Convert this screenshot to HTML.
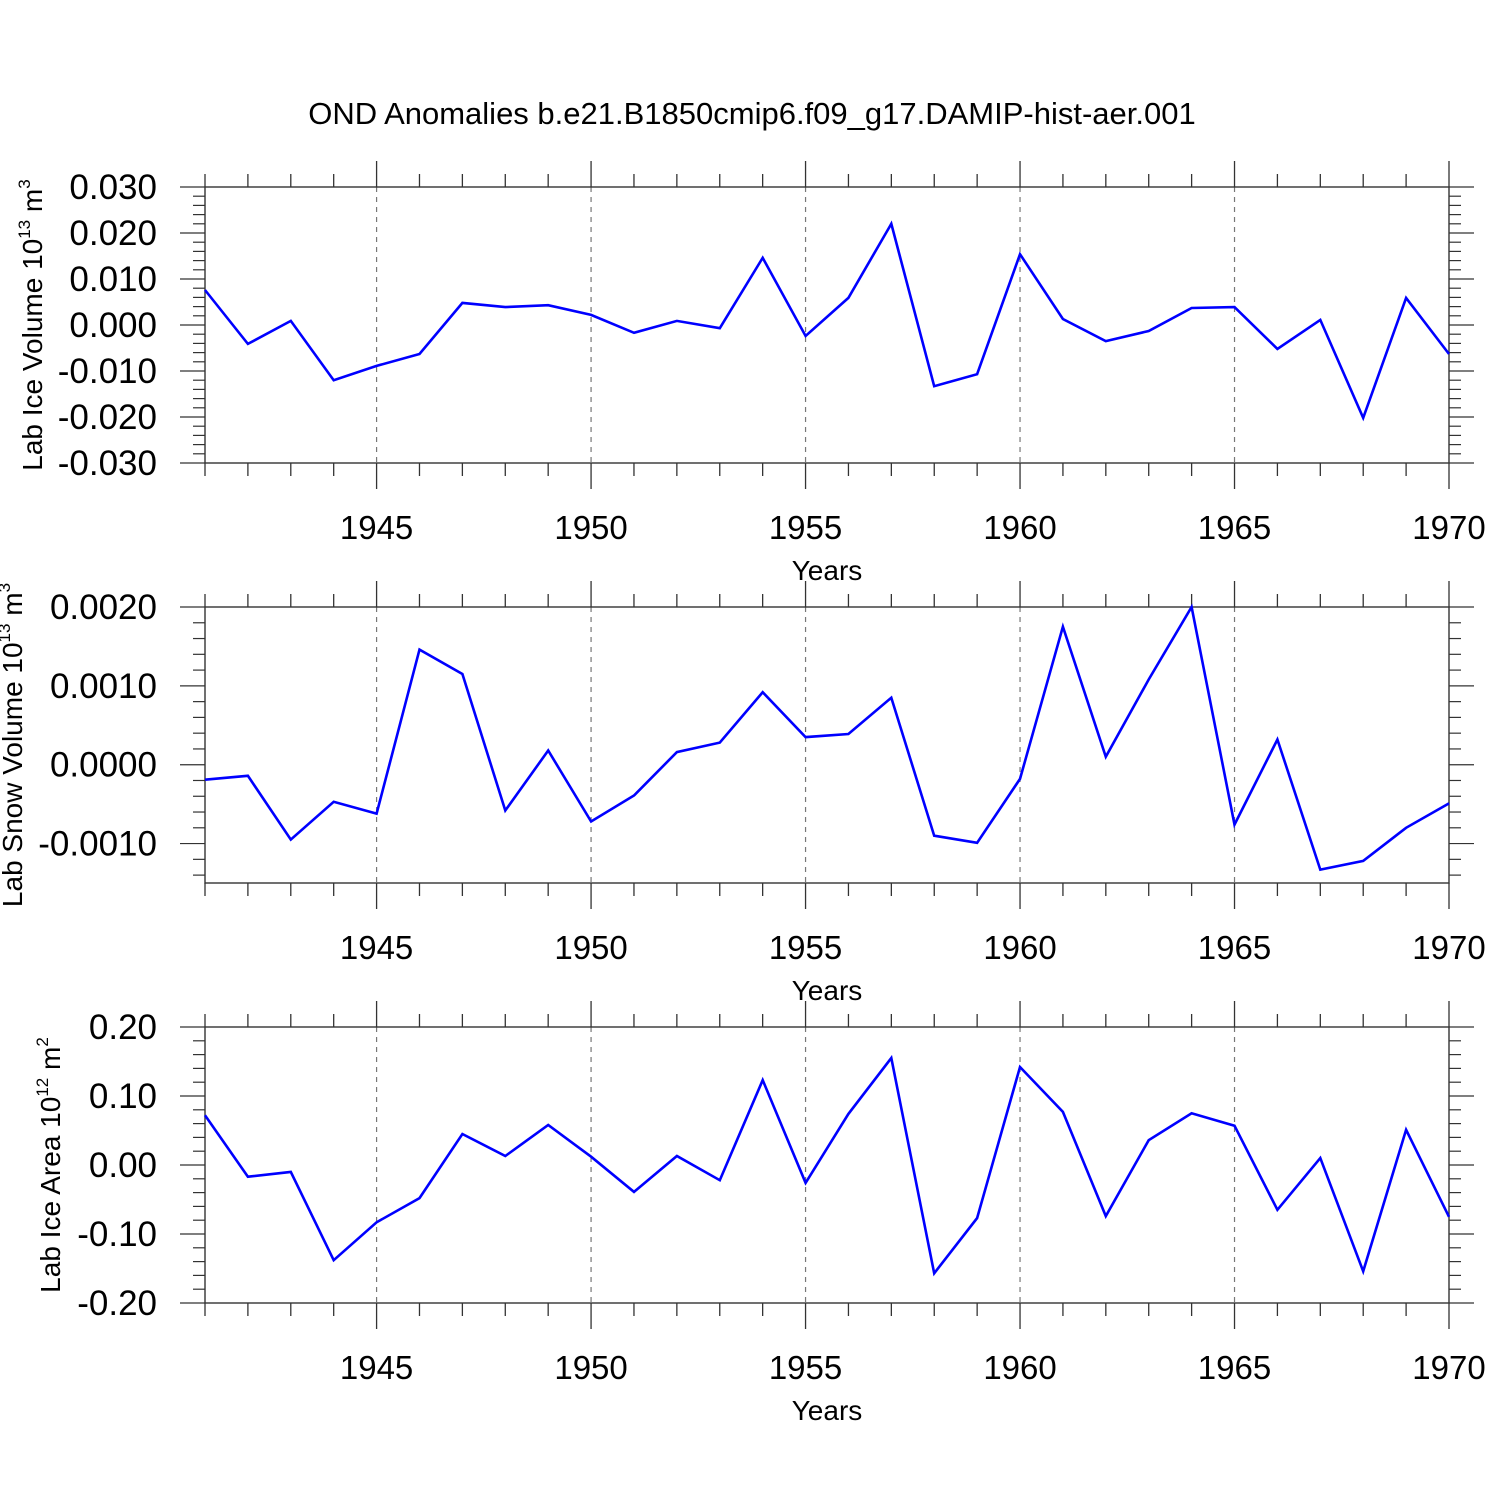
<!DOCTYPE html>
<html><head><meta charset="utf-8"><style>
html,body{margin:0;padding:0;background:#fff;}
svg text{font-family:"Liberation Sans",Arial,sans-serif;fill:#000;}
</style></head><body>
<svg id="chart" width="1500" height="1500" xmlns="http://www.w3.org/2000/svg">
<text x="752" y="124" font-size="31" text-anchor="middle">OND Anomalies b.e21.B1850cmip6.f09_g17.DAMIP-hist-aer.001</text>
</svg>
<script>
const years = [1941,1942,1943,1944,1945,1946,1947,1948,1949,1950,1951,1952,1953,1954,1955,1956,1957,1958,1959,1960,1961,1962,1963,1964,1965,1966,1967,1968,1969,1970];
const iceVolume = [0.0076,-0.0041,0.0009,-0.0120,-0.0089,-0.0063,0.0048,0.0039,0.0043,0.0022,-0.0017,0.0009,-0.0007,0.0146,-0.0024,0.0059,0.0220,-0.0133,-0.0107,0.0154,0.0013,-0.0035,-0.0013,0.0037,0.0039,-0.0052,0.0011,-0.0202,0.0059,-0.0063];
const snowVolume = [-0.00019,-0.00014,-0.00095,-0.00047,-0.00062,0.00146,0.00115,-0.00058,0.00018,-0.00072,-0.00039,0.00016,0.00028,0.00092,0.00035,0.00039,0.00085,-0.00090,-0.00099,-0.00018,0.00175,0.00010,0.00108,0.00200,-0.00076,0.00032,-0.00133,-0.00122,-0.00080,-0.00049];
const iceArea = [0.072,-0.017,-0.010,-0.138,-0.083,-0.048,0.045,0.013,0.058,0.012,-0.039,0.013,-0.022,0.123,-0.026,0.074,0.155,-0.157,-0.077,0.142,0.077,-0.074,0.036,0.075,0.057,-0.065,0.010,-0.154,0.051,-0.075];
const xTickLabels = [1945,1950,1955,1960,1965,1970];
const iceVolTicks = [0.03,0.02,0.01,0,-0.01,-0.02,-0.03];
const iceVolLabels = ["0.030","0.020","0.010","0.000","-0.010","-0.020","-0.030"];
const snowTicks = [0.002,0.001,0,-0.001];
const snowLabels = ["0.0020","0.0010","0.0000","-0.0010"];
const areaTicks = [0.2,0.1,0,-0.1,-0.2];
const areaLabels = ["0.20","0.10","0.00","-0.10","-0.20"];

const svg = document.getElementById('chart');
const NS = 'http://www.w3.org/2000/svg';
function mk(tag, attrs, parent){const e=document.createElementNS(NS,tag);for(const k in attrs)e.setAttribute(k,attrs[k]);(parent||svg).appendChild(e);return e;}
const X0=205,X1=1449,Y0=1941,Y1=1970;
function xs(v){return X0+(v-Y0)/(Y1-Y0)*(X1-X0);}

function panel(cfg){
  const g = mk('g',{});
  
  
  const top=cfg.top,bot=cfg.bot;
  const ys=v=>top+(cfg.ymax-v)/(cfg.ymax-cfg.ymin)*(bot-top);
  const st='#333';
  for(const yr of xTickLabels){ if(yr===1970) continue;
    const l=mk('line',{x1:xs(yr),x2:xs(yr),y1:top,y2:bot,stroke:'#777','stroke-width':1.2,'stroke-dasharray':'5,5'},g);
    
    
  }
  const fr=mk('rect',{x:X0,y:top,width:X1-X0,height:bot-top,fill:'none',stroke:st,'stroke-width':1.4},g);
  
  
  for(let yr=Y0;yr<=Y1;yr++){
    const major=(yr%5===0); const len=major?26:13; const x=xs(yr);
    mk('line',{x1:x,x2:x,y1:top,y2:top-len,stroke:st,'stroke-width':1.3},g);
    mk('line',{x1:x,x2:x,y1:bot,y2:bot+len,stroke:st,'stroke-width':1.3},g);
  }
  for(const yr of xTickLabels){
    const t=mk('text',{x:xs(yr),y:bot+76,'font-size':33,'text-anchor':'middle'},g);
    t.textContent=yr;
    
    
  }
  const xt=mk('text',{x:827,y:bot+117,'font-size':28,'text-anchor':'middle'},g);
  xt.textContent='Years';
  
  
  const step=cfg.ticks[0]-cfg.ticks[1];
  for(let v=cfg.ymax; v>=cfg.ymin-1e-12; v-=step/5){
    const y=ys(v);
    const major=Math.abs(((cfg.ticks[0]-v)/step)-Math.round((cfg.ticks[0]-v)/step))<1e-6;
    const len=major?25:12;
    mk('line',{x1:X0,x2:X0-len,y1:y,y2:y,stroke:st,'stroke-width':1.2},g);
    mk('line',{x1:X1,x2:X1+len,y1:y,y2:y,stroke:st,'stroke-width':1.2},g);
  }
  cfg.ticks.forEach((v,i)=>{
    const t=mk('text',{x:157,y:ys(v)+12,'font-size':35,'text-anchor':'end'},g);
    t.textContent=cfg.labels[i];
    
    
  });
  const yt=mk('text',{transform:`translate(${cfg.titleX},${cfg.titleY}) rotate(-90)`,'font-size':28,'text-anchor':'middle'},g);
  yt.innerHTML=cfg.title;
  
  
  const pts=years.map((yr,i)=>xs(yr).toFixed(1)+','+ys(cfg.data[i]).toFixed(1)).join(' ');
  const pl=mk('polyline',{points:pts,fill:'none',stroke:'#0000ff','stroke-width':2.6,'stroke-linejoin':'miter'},g);
  
  
}
panel({name:'ice-volume-panel',top:187,bot:463,ymax:0.03,ymin:-0.03,ticks:iceVolTicks,labels:iceVolLabels,data:iceVolume,titleX:42,titleY:325,
  title:'Lab Ice Volume 10<tspan dy="-12" font-size="17">13</tspan><tspan dy="12"> m</tspan><tspan dy="-12" font-size="17">3</tspan>'});
panel({name:'snow-volume-panel',top:607,bot:883,ymax:0.002,ymin:-0.0015,ticks:snowTicks,labels:snowLabels,data:snowVolume,titleX:22,titleY:745,
  title:'Lab Snow Volume 10<tspan dy="-12" font-size="17">13</tspan><tspan dy="12"> m</tspan><tspan dy="-12" font-size="17">3</tspan>'});
panel({name:'ice-area-panel',top:1027,bot:1303,ymax:0.2,ymin:-0.2,ticks:areaTicks,labels:areaLabels,data:iceArea,titleX:60,titleY:1165,
  title:'Lab Ice Area 10<tspan dy="-12" font-size="17">12</tspan><tspan dy="12"> m</tspan><tspan dy="-12" font-size="17">2</tspan>'});
</script>
</body></html>
